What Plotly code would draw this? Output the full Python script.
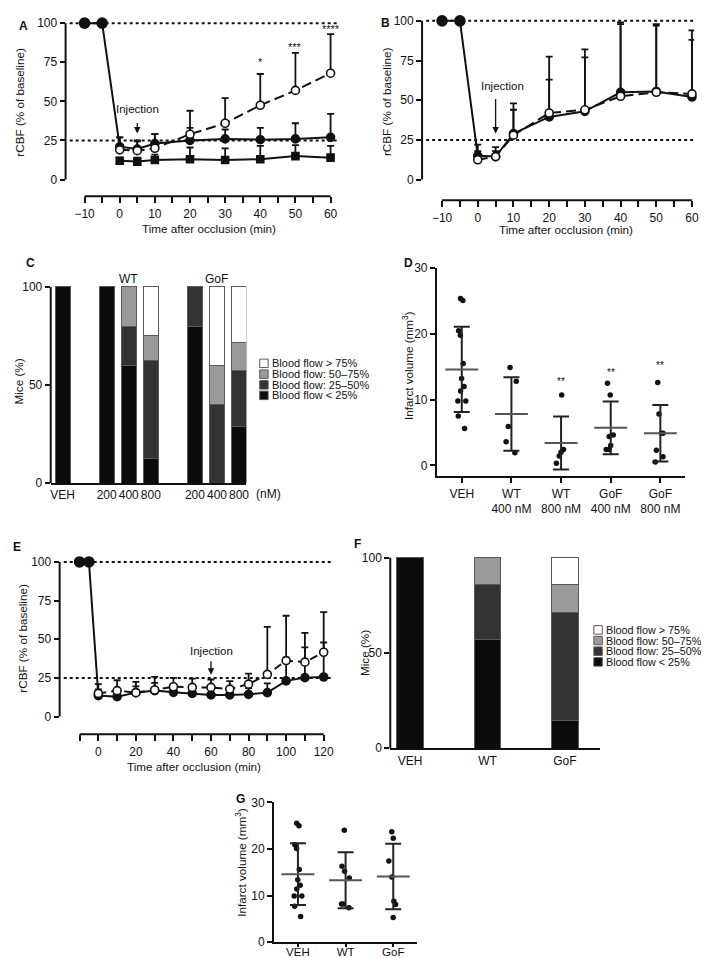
import plotly.graph_objects as go

W, H = 709, 958
FONT = "Liberation Sans, Arial, Helvetica, sans-serif"
INK = "#111111"

# ---------------- data: panel A ----------------
a_time = [-10, -5, 0, 5, 10, 20, 30, 40, 50, 60]
a_ctrl = [100, 100, 21, 19.5, 23, 25, 26, 25.5, 26, 27]
a_ctrl_err = [0, 0, 6, 5, 6, 8, 6, 7.5, 10, 15]
a_post_time = [0, 5, 10, 20, 30, 40, 50, 60]
a_treat = [19, 18.5, 20, 29, 36, 47.5, 57, 68]
a_treat_err = [8, 6.5, 9, 15, 16, 20, 24, 25]
a_sq = [12, 11.5, 12.5, 13, 12.5, 13, 15, 14]
a_sq_err = [2, 2.5, 3.5, 7.5, 7.5, 8.5, 7, 7.5]
a_star_text = ["*", "***", "****"]
a_star_time = [40, 50, 60]
a_star_y = [75, 85, 96.5]
a_tickvals = [-10, -5, 0, 5, 10, 15, 20, 25, 30, 35, 40, 45, 50, 55, 60]
a_ticktext = ["−10", "", "0", "", "10", "", "20", "", "30", "", "40", "", "50", "", "60"]

# ---------------- data: panel B ----------------
b_time = [-10, -5, 0, 5, 10, 20, 30, 40, 50, 60]
b_ctrl = [100, 100, 15, 14.5, 29, 39.5, 43, 55, 55.5, 52]
b_ctrl_err = [0, 0, 3, 6, 15, 23.5, 34, 43, 41.5, 36]
b_post_time = [0, 5, 10, 20, 30, 40, 50, 60]
b_treat = [12.5, 14.5, 28, 42, 44, 52.5, 55, 54]
b_treat_err = [9.5, 3.5, 20, 35.5, 38, 46.5, 43, 40]

# ---------------- data: panel C ----------------
c_labels = ["VEH", "200", "400", "800", "200", "400", "800"]
c_pos = [0, 2, 3, 4, 6, 7, 8]
c_lt25 = [100, 100, 60, 12.5, 80, 0, 28.6]
c_25_50 = [0, 0, 20, 50, 20, 40, 28.6]
c_50_75 = [0, 0, 20, 12.5, 0, 20, 14.3]
c_gt75 = [0, 0, 0, 25, 0, 40, 28.5]

# ---------------- data: panel D ----------------
d_groups = ["VEH", "WT<br>400 nM", "WT<br>800 nM", "GoF<br>400 nM", "GoF<br>800 nM"]
d_veh = [25.4, 25.1, 20.5, 19.8, 15.5, 13.2, 12.0, 11.3, 9.8, 9.8, 7.5, 5.6]
d_wt400 = [14.9, 12.8, 5.9, 3.6, 1.9]
d_wt800 = [10.7, 2.4, 2.0, 1.4, 0.3]
d_gof400 = [12.5, 10.7, 4.6, 4.4, 3.0, 2.4, 2.4]
d_gof800 = [12.6, 7.8, 4.9, 4.9, 2.3, 1.3, 0.5]
d_mean = [14.6, 7.8, 3.4, 5.7, 4.9]
d_sd = [6.5, 5.6, 4.05, 4.0, 4.3]
d_stars = ["", "", "**", "**", "**"]
d_star_y = [0, 0, 12.8, 14.1, 15.2]

# ---------------- data: panel E ----------------
e_time = [-10, -5, 0, 10, 20, 30, 40, 50, 60, 70, 80, 90, 100, 110, 120]
e_ctrl = [100, 100, 13.6, 12.9, 15.5, 16.8, 15.7, 15, 14, 14, 14.4, 15.5, 23.1, 25.2, 25.6]
e_ctrl_err = [0, 0, 4, 4, 4, 5, 4, 4, 4, 4, 4, 6, 15, 19.5, 22.3]
e_post_time = [0, 10, 20, 30, 40, 50, 60, 70, 80, 90, 100, 110, 120]
e_treat = [15, 16.8, 15.5, 17.2, 19.3, 18.9, 18.9, 17.8, 21, 27.3, 36.2, 35.2, 41.6]
e_treat_err = [6, 6.7, 7, 8.5, 5.7, 5.7, 5.1, 5.1, 6.8, 30.7, 29, 19, 26]
e_tickvals = [-10, 0, 10, 20, 30, 40, 50, 60, 70, 80, 90, 100, 110, 120]
e_ticktext = ["", "0", "", "20", "", "40", "", "60", "", "80", "", "100", "", "120"]

# ---------------- data: panel F ----------------
f_labels = ["VEH", "WT", "GoF"]
f_lt25 = [100, 57.1, 14.3]
f_25_50 = [0, 28.6, 57.1]
f_50_75 = [0, 14.3, 14.3]
f_gt75 = [0, 0, 14.3]

# ---------------- data: panel G ----------------
g_groups = ["VEH", "WT", "GoF"]
g_veh = [25.5, 25.0, 20.9, 20.1, 15.6, 13.4, 12.2, 11.4, 9.9, 9.9, 7.7, 5.5]
g_wt = [24.0, 16.3, 15.2, 13.8, 8.2, 8.2, 7.4]
g_gof = [23.7, 22.3, 17.4, 14.0, 8.8, 8.1, 5.3]
g_mean = [14.6, 13.3, 14.1]
g_sd = [6.6, 6.0, 7.0]

flow_names = ["Blood flow < 25%", "Blood flow: 25–50%", "Blood flow: 50–75%", "Blood flow > 75%"]
flow_colors = ["#0b0b0b", "#333333", "#9a9a9a", "#ffffff"]

# ---------------- helpers ----------------
def dx(p0, p1):
    return [p0 / W, p1 / W]

def dy(top, bot):
    return [1 - bot / H, 1 - top / H]

def px(p):
    return p / W

def py(p):
    return 1 - p / H

def base_axis(**kw):
    d = dict(showgrid=False, zeroline=False, ticks="outside", ticklen=5, tickwidth=1.5,
             tickcolor=INK, tickfont=dict(size=12, color=INK, family=FONT),
             linecolor=INK, linewidth=2, fixedrange=True, tickangle=0)
    d.update(kw)
    return d

fig = go.Figure()
shapes = []
annos = []

def ts_trace(ax, x, y, err, filled, dash="solid", symbol="circle", sizes=8):
    fig.add_trace(go.Scatter(
        x=x, y=y, xaxis="x" + ax, yaxis="y" + ax, mode="lines+markers",
        line=dict(color=INK, width=2, dash=dash),
        marker=dict(symbol=symbol, size=sizes, color=INK if filled else "white", opacity=1,
                    line=dict(color=INK, width=1.6)),
        error_y=dict(type="data", symmetric=False, array=err, arrayminus=[0] * len(err),
                     color=INK, thickness=1.8, width=3.5),
        cliponaxis=False, showlegend=False, hoverinfo="skip"))

def sizes_for(x):
    return [10 if v < 0 else 8 for v in x]

def offset_axes(ax, x0, x1, y0, y1):
    xr = "x" + ax
    yr = "y" + ax
    shapes.append(dict(type="line", xref=xr, yref=yr + " domain", x0=x0, x1=x1, y0=0, y1=0,
                       layer="below", line=dict(color=INK, width=2)))
    shapes.append(dict(type="line", xref=xr + " domain", yref=yr, x0=0, x1=0, y0=y0, y1=y1,
                       layer="below", line=dict(color=INK, width=2)))

def dotted(ax, levels):
    for lv in levels:
        shapes.append(dict(type="line", xref="x" + ax + " domain", yref="y" + ax, x0=0.015, x1=1,
                           y0=lv, y1=lv, layer="below", line=dict(color=INK, width=2, dash="dot")))

def text(x, y, s, size=11.7, xref="paper", yref="paper", angle=0, xanchor="center",
         yanchor="middle", bold=False):
    annos.append(dict(x=x, y=y, xref=xref, yref=yref, text=("<b>%s</b>" % s) if bold else s,
                      showarrow=False, textangle=angle, xanchor=xanchor, yanchor=yanchor,
                      font=dict(size=size, color=INK, family=FONT)))

def arrow(ax, x, y_head, length_px):
    annos.append(dict(x=x, y=y_head, xref="x" + ax, yref="y" + ax, text="", showarrow=True,
                      ax=0, ay=-length_px, arrowhead=2, arrowsize=1, arrowwidth=1.3, arrowcolor=INK))

# ---------------- Panel A ----------------
ts_trace("", a_post_time, a_sq, a_sq_err, True, symbol="square", sizes=7)
ts_trace("", a_time, a_ctrl, a_ctrl_err, True, sizes=sizes_for(a_time))
ts_trace("", a_post_time, a_treat, a_treat_err, False, dash="10px,5px")
offset_axes("", -10, 60, 0, 100)
dotted("", [100, 25])
for s, t, yv in zip(a_star_text, a_star_time, a_star_y):
    text(t, yv, s, size=11, xref="x", yref="y")
text(5, 45, "Injection", size=11.5, xref="x", yref="y")
arrow("", 5, 29.5, 12)

# ---------------- Panel B ----------------
ts_trace("2", b_time, b_ctrl, b_ctrl_err, True, sizes=sizes_for(b_time))
ts_trace("2", b_post_time, b_treat, b_treat_err, False, dash="10px,5px")
offset_axes("2", -10, 60, 0, 100)
dotted("2", [100, 25])
text(6.8, 59, "Injection", size=11.5, xref="x2", yref="y2")
arrow("2", 5, 29, 36)

# ---------------- Panel C ----------------
for vals, name, col in zip([c_lt25, c_25_50, c_50_75, c_gt75], flow_names, flow_colors):
    fig.add_trace(go.Bar(x=c_pos, y=[v if v > 0 else None for v in vals], width=0.68,
                         marker=dict(color=col, line=dict(color="#5a5a5a", width=1)),
                         xaxis="x3", yaxis="y3", name=name, showlegend=False, hoverinfo="skip"))
shapes.append(dict(type="line", xref="x3 domain", yref="y3", x0=0, x1=0, y0=0, y1=100,
                   layer="below", line=dict(color=INK, width=2)))
text(px(121.5), py(268), "WT", size=12)
text(px(209.5), py(268), "GoF", size=12)
text(px(262), py(486), "(nM)", size=12)

# ---------------- Panel D ----------------
d_x, d_y = [], []
for g, pts in zip(d_groups, [d_veh, d_wt400, d_wt800, d_gof400, d_gof800]):
    d_x += [g] * len(pts)
    d_y += pts
fig.add_trace(go.Box(x=d_x, y=d_y, boxpoints="all", jitter=0.55, pointpos=0, width=0.4,
                     fillcolor="rgba(0,0,0,0)", line=dict(width=0, color="rgba(0,0,0,0)"),
                     marker=dict(color=INK, size=5.5, opacity=1), xaxis="x4", yaxis="y4",
                     showlegend=False, hoverinfo="skip"))
fig.add_trace(go.Scatter(x=d_groups, y=d_mean, mode="markers", xaxis="x4", yaxis="y4",
                         marker=dict(symbol="line-ew", size=23.5, color="#555",
                                     line=dict(width=2, color="#555")),
                         error_y=dict(type="data", array=d_sd, width=8, thickness=2, color="#222"),
                         showlegend=False, hoverinfo="skip"))
for g, s, yv in zip(d_groups, d_stars, d_star_y):
    if s:
        text(g, yv, s, size=10, xref="x4", yref="y4")

# ---------------- Panel E ----------------
ts_trace("5", e_time, e_ctrl, e_ctrl_err, True, sizes=sizes_for(e_time))
ts_trace("5", e_post_time, e_treat, e_treat_err, False, dash="8px,5px")
offset_axes("5", -10, 120, 0, 100)
dotted("5", [100, 25])
text(60, 42.6, "Injection", size=11.5, xref="x5", yref="y5")
arrow("5", 60, 27, 15)

# ---------------- Panel F ----------------
for vals, name, col in zip([f_lt25, f_25_50, f_50_75, f_gt75], flow_names, flow_colors):
    fig.add_trace(go.Bar(x=list(range(len(f_labels))), y=[v if v > 0 else None for v in vals],
                         width=0.34, marker=dict(color=col, line=dict(color="#5a5a5a", width=1)),
                         xaxis="x6", yaxis="y6", name=name, showlegend=False, hoverinfo="skip"))
shapes.append(dict(type="line", xref="x6 domain", yref="y6", x0=0, x1=0, y0=0, y1=100,
                   layer="below", line=dict(color=INK, width=2)))

# ---------------- Panel G ----------------
g_x, g_y = [], []
for g, pts in zip(g_groups, [g_veh, g_wt, g_gof]):
    g_x += [g] * len(pts)
    g_y += pts
fig.add_trace(go.Box(x=g_x, y=g_y, boxpoints="all", jitter=0.55, pointpos=0, width=0.4,
                     fillcolor="rgba(0,0,0,0)", line=dict(width=0, color="rgba(0,0,0,0)"),
                     marker=dict(color=INK, size=5.5, opacity=1), xaxis="x7", yaxis="y7",
                     showlegend=False, hoverinfo="skip"))
fig.add_trace(go.Scatter(x=g_groups, y=g_mean, mode="markers", xaxis="x7", yaxis="y7",
                         marker=dict(symbol="line-ew", size=23.5, color="#555",
                                     line=dict(width=2, color="#555")),
                         error_y=dict(type="data", array=g_sd, width=8, thickness=2, color="#222"),
                         showlegend=False, hoverinfo="skip"))

# ---------------- custom legends (C, F) ----------------
def legend_block(x_px, rows_px, size):
    order = list(range(len(flow_names)))[::-1]
    for row, i in zip(rows_px, order):
        shapes.append(dict(type="rect", xref="paper", yref="paper",
                           x0=px(x_px), x1=px(x_px + 8.5), y0=py(row + 4.3), y1=py(row - 4.3),
                           fillcolor=flow_colors[i], line=dict(color="#5a5a5a", width=1)))
        text(px(x_px + 10.5), py(row), flow_names[i], size=size, xanchor="left")

legend_block(253.5, [353.5, 364.5, 375.3, 386], 11)
legend_block(590, [624, 634.8, 645.6, 656.5], 10.8)

# ---------------- titles & labels ----------------
text(px(12), py(88), "rCBF (% of baseline)", angle=-90)
text(px(381), py(88), "rCBF (% of baseline)", angle=-90)
text(px(15), py(632), "rCBF (% of baseline)", angle=-90)
text(px(202), py(217), "Time after occlusion (min)")
text(px(562), py(218), "Time after occlusion (min)")
text(px(187), py(763), "Time after occlusion (min)")
text(px(11), py(372), "Mice (%)", angle=-90)
text(px(359), py(647), "Mice (%)", angle=-90)
text(px(403), py(356), "Infarct volume (mm<sup>3</sup>)", angle=-90)
text(px(235), py(860), "Infarct volume (mm<sup>3</sup>)", angle=-90)

for lab, xp, yp in [("A", 16, 11), ("B", 380, 8), ("C", 23, 252), ("D", 403, 252),
                    ("E", 9, 540), ("F", 352, 537), ("G", 234, 796)]:
    text(px(xp), py(yp), lab, size=12, bold=True)

# ---------------- layout ----------------
layout = dict(
    width=W, height=H, margin=dict(l=0, r=0, t=0, b=0),
    paper_bgcolor="white", plot_bgcolor="rgba(0,0,0,0)",
    font=dict(family=FONT, size=12, color=INK),
    showlegend=False, barmode="stack", boxmode="overlay",
    # A
    xaxis=base_axis(domain=dx(58, 333), range=[-15.4, 62.3], anchor="y", showline=False,
                    tickmode="array", tickvals=a_tickvals, ticktext=a_ticktext, ticklen=6),
    yaxis=base_axis(domain=dy(0, 184), range=[-10.7, 105.2], anchor="x", showline=False,
                    tickvals=[0, 25, 50, 75, 100]),
    # B
    xaxis2=base_axis(domain=dx(417, 691), range=[-15.6, 60.6], anchor="y2", showline=False,
                     tickmode="array", tickvals=a_tickvals, ticktext=a_ticktext, ticklen=6),
    yaxis2=base_axis(domain=dy(0, 188), range=[-13, 103.7], anchor="x2", showline=False,
                     tickvals=[0, 25, 50, 75, 100]),
    # C
    xaxis3=base_axis(domain=dx(43, 240), range=[-0.54, 8.33], anchor="y3", showline=True,
                     ticks="", tickmode="array", tickvals=c_pos, ticktext=c_labels),
    yaxis3=base_axis(domain=dy(270, 475), range=[0, 103], anchor="x3", showline=False,
                     tickvals=[0, 50, 100]),
    # D
    xaxis4=base_axis(domain=dx(432, 682), range=[-0.5, 4.5], anchor="y4", showline=True,
                     type="category", categoryorder="array", categoryarray=d_groups),
    yaxis4=base_axis(domain=dy(257, 468), range=[-1.65, 30], anchor="x4", showline=True,
                     tickvals=[0, 10, 20, 30]),
    # E
    xaxis5=base_axis(domain=dx(52, 327), range=[-20.6, 124.8], anchor="y5", showline=False,
                     tickmode="array", tickvals=e_tickvals, ticktext=e_ticktext, ticklen=6),
    yaxis5=base_axis(domain=dy(545, 730), range=[-11.46, 106.4], anchor="x5", showline=False,
                     tickvals=[0, 25, 50, 75, 100]),
    # F
    xaxis6=base_axis(domain=dx(385, 596), range=[-0.256, 2.45], anchor="y6", showline=True,
                     ticks="", tickmode="array", tickvals=[0, 1, 2], ticktext=f_labels),
    yaxis6=base_axis(domain=dy(545, 744), range=[0, 103], anchor="x6", showline=False,
                     tickvals=[0, 50, 100]),
    # G
    xaxis7=base_axis(domain=dx(268, 412), range=[-0.5, 2.5], anchor="y7", showline=True,
                     type="category", categoryorder="array", categoryarray=g_groups,
                     ticklen=3, ticklabelstandoff=-5,
                     tickfont=dict(size=11.5, color=INK, family=FONT)),
    yaxis7=base_axis(domain=dy(799, 941), range=[0, 30], anchor="x7", showline=True,
                     tickvals=[0, 10, 20, 30]),
    shapes=shapes, annotations=annos,
)
fig.update_layout(**layout)
fig.write_html("out.html")
